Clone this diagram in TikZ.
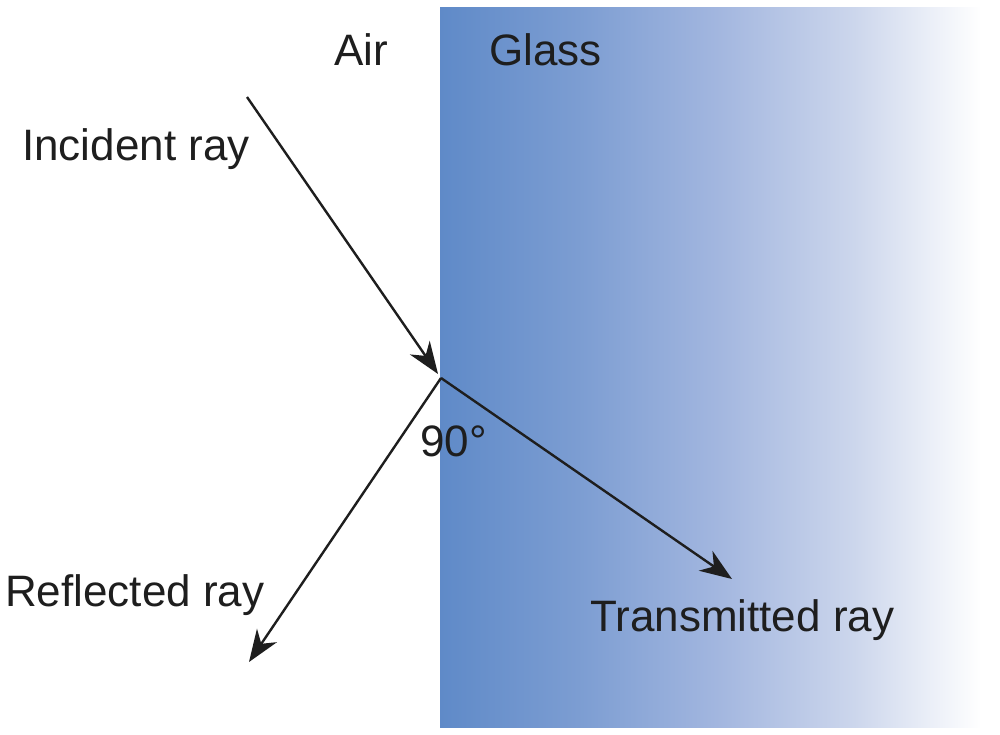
\documentclass[tikz,border=0pt]{standalone}
\usepackage{fontspec}
\setmainfont{Liberation Sans}
\usetikzlibrary{arrows.meta}
\definecolor{glassA}{HTML}{5F8AC8}
\definecolor{glassB}{HTML}{7C9DD2}
\definecolor{glassC}{HTML}{A2B6DF}
\definecolor{glassD}{HTML}{CCD6EC}
\definecolor{inkc}{HTML}{1E1E1E}
\pgfdeclarehorizontalshading{glassshade}{100bp}{color(0bp)=(glassA); color(25bp)=(glassA); color(37.5bp)=(glassB); color(50bp)=(glassC); color(62.5bp)=(glassD); color(74bp)=(white); color(100bp)=(white)}
\tikzset{
  lbl/.style={anchor=base west, inner sep=0pt, text=inkc, font=\fontsize{44}{50}\selectfont},
  ray/.style={draw=inkc, line width=2.4pt, -{Stealth[length=32pt, width=24pt, inset=10pt]}}
}
\begin{document}
\begin{tikzpicture}[x=1pt,y=-1pt]
\useasboundingbox (0,0) rectangle (1000,735);
\fill[white] (0,0) rectangle (1000,735);
\node[inner sep=0pt, outer sep=0pt, minimum width=552pt, minimum height=719pt, anchor=north west, shading=glassshade] (glass) at (440,8) {};
\coordinate (src) at (247,97);
\coordinate (hit) at (441,378);
\coordinate (tipI) at (438,374);
\coordinate (refl) at (249,662);
\coordinate (trans) at (732,579);
\draw[ray] (src) -- (tipI);
\draw[ray] (hit) -- (refl);
\draw[ray] (hit) -- (trans);
\node[lbl] (air) at (334,66) {Air};
\node[lbl] (glasslbl) at (489,66) {Glass};
\node[lbl] (inc) at (22,161) {Incident ray};
\node[lbl] (ang) at (420,456) {90°};
\node[lbl] (reflbl) at (5,606) {Reflected ray};
\node[lbl] (translbl) at (590,631) {Transmitted ray};
\end{tikzpicture}
\end{document}
